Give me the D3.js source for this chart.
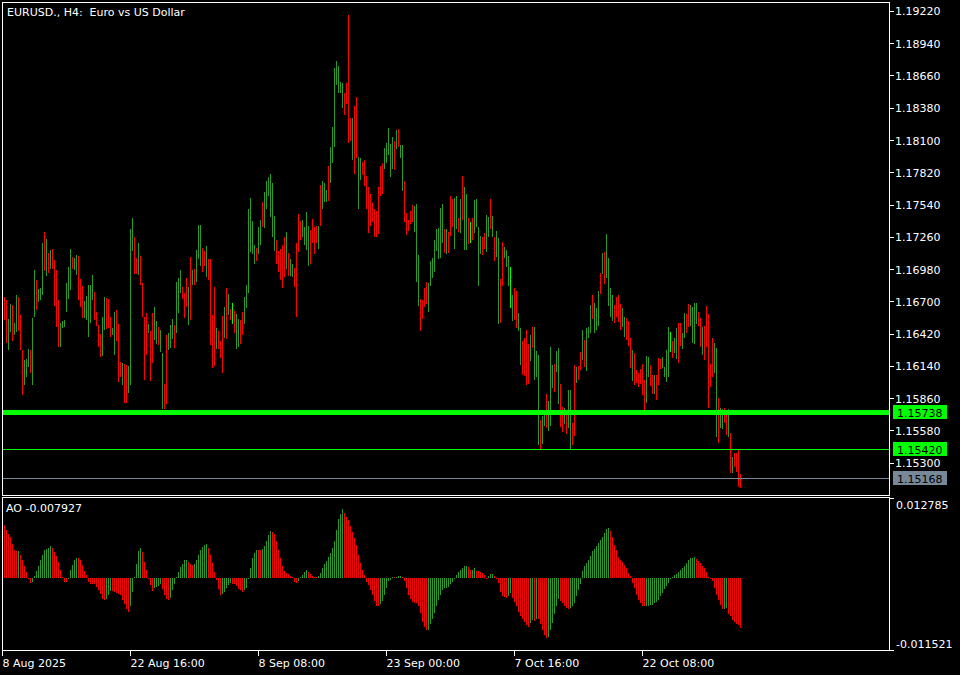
<!DOCTYPE html>
<html><head><meta charset="utf-8">
<script src="https://cdn.jsdelivr.net/npm/d3@7"></script>
<style>
html,body{margin:0;padding:0;background:#000;}
svg{display:block;}
text{font-family:"DejaVu Sans",sans-serif;font-size:11px;white-space:pre;}
</style>
</head><body>
<svg id="chart" width="960" height="675"></svg>
<script>
const chartTitle = "EURUSD., H4:  Euro vs US Dollar";
const aoTitle = "AO -0.007927";
const timeLabels = ["8 Aug 2025","22 Aug 16:00","8 Sep 08:00","23 Sep 00:00","7 Oct 16:00","22 Oct 08:00"];
const timeLabelBars = [0,64,128,192,256,320];
const priceTicks = [1.19220,1.18940,1.18660,1.18380,1.18100,1.17820,1.17540,1.17260,1.16980,1.16700,1.16420,1.16140,1.15860,1.15580,1.15300];
const levelPrices = [1.15738,1.15420,1.15168];
const levelKinds = ["thick","thin","gray"];
const aoAxisValues = [0.012785,-0.011521];

const highs = [
1.16735,1.16712,1.16544,1.16677,1.16669,1.16515,1.16755,1.16735,1.16582,1.16278,
1.16191,1.16197,1.16284,1.16278,1.16553,1.16972,1.16886,1.16805,1.16813,1.17210,
1.17299,1.17239,1.17117,1.17146,1.17152,1.17059,1.16972,1.16712,1.16510,1.16533,
1.16539,1.16857,1.17001,1.17152,1.17082,1.17074,1.17103,1.17094,1.16891,1.16834,
1.16706,1.16747,1.16842,1.16842,1.16929,1.16784,1.16611,1.16495,1.16417,1.16567,
1.16735,1.16727,1.16718,1.16567,1.16466,1.16611,1.16625,1.16504,1.16177,1.16162,
1.16157,1.16148,1.16139,1.17325,1.17421,1.17256,1.17074,1.17204,1.17094,1.16857,
1.16562,1.16596,1.16504,1.16446,1.16602,1.16648,1.16533,1.16481,1.16452,1.16249,
1.15983,1.16408,1.16423,1.16495,1.16544,1.16492,1.16871,1.16900,1.16972,1.16822,
1.16770,1.16900,1.16822,1.17082,1.16974,1.16982,1.17147,1.17360,1.17360,1.17162,
1.17136,1.17180,1.17064,1.17064,1.16578,1.16823,1.16470,1.16441,1.16355,1.16571,
1.16650,1.16812,1.16766,1.16632,1.16686,1.16614,1.16589,1.16549,1.16542,1.16607,
1.16740,1.16838,1.17504,1.17594,1.17396,1.17190,1.17162,1.17342,1.17406,1.17561,
1.17651,1.17741,1.17777,1.17803,1.17731,1.17442,1.17234,1.17136,1.17154,1.17190,
1.17255,1.17298,1.17118,1.17064,1.17028,1.16992,1.17208,1.17460,1.17396,1.17406,
1.17342,1.17471,1.17352,1.17316,1.17414,1.17342,1.17352,1.17352,1.17713,1.17741,
1.17731,1.17666,1.17875,1.18037,1.18217,1.18721,1.18782,1.18739,1.18602,1.18595,
1.18505,1.18595,1.19189,1.18289,1.18289,1.18397,1.18476,1.17954,1.17947,1.17911,
1.17929,1.17785,1.17695,1.17630,1.17551,1.17497,1.17487,1.17688,1.17876,1.17897,
1.18032,1.18071,1.18205,1.18062,1.18128,1.18092,1.18187,1.18196,1.18056,1.18056,
1.17748,1.17463,1.17404,1.17487,1.17538,1.17523,1.17547,1.17104,1.16721,1.16709,
1.16820,1.16871,1.16859,1.17050,1.17074,1.17230,1.17329,1.17338,1.17508,1.17547,
1.17329,1.17329,1.17299,1.17613,1.17589,1.17598,1.17613,1.17419,1.17589,1.17787,
1.17688,1.17634,1.17425,1.17389,1.17419,1.17577,1.17589,1.17344,1.17269,1.17260,
1.17290,1.17448,1.17433,1.17589,1.17442,1.17260,1.17314,1.17248,1.16895,1.17215,
1.17170,1.17149,1.17095,1.17000,1.16754,1.16814,1.16790,1.16602,1.16470,1.16356,
1.16380,1.16452,1.16332,1.16410,1.16476,1.16476,1.16267,1.16237,1.15668,1.15704,
1.15743,1.15893,1.15833,1.16303,1.16147,1.16153,1.16273,1.16297,1.15983,1.15786,
1.15771,1.15734,1.15931,1.15931,1.15647,1.16148,1.16127,1.16139,1.16263,1.16451,
1.16365,1.16466,1.16474,1.16668,1.16755,1.16683,1.16639,1.16793,1.16943,1.17117,
1.17131,1.17284,1.17073,1.16813,1.16755,1.16668,1.16741,1.16755,1.16677,1.16639,
1.16561,1.16552,1.16532,1.16379,1.16278,1.16249,1.16104,1.16081,1.16110,1.16156,
1.16017,1.16226,1.16214,1.16148,1.16061,1.16061,1.16061,1.16205,1.16197,1.16220,
1.16133,1.16278,1.16474,1.16437,1.16359,1.16379,1.16466,1.16515,1.16509,1.16422,
1.16602,1.16590,1.16677,1.16668,1.16648,1.16683,1.16689,1.16610,1.16558,1.16480,
1.16486,1.16660,1.16590,1.16156,1.16379,1.16341,1.16292,1.15858,1.15771,1.15763,
1.15771,1.15743,1.15763,1.15560,1.15352,1.15387,1.15381,1.15410,1.15202
];

const lows = [
1.16539,1.16336,1.16278,1.16437,1.16359,1.16408,1.16437,1.16446,1.16278,1.15888,
1.15974,1.16047,1.16133,1.16076,1.15974,1.16567,1.16625,1.16698,1.16712,1.16755,
1.16967,1.16920,1.16949,1.16978,1.16978,1.16660,1.16481,1.16307,1.16307,1.16466,
1.16481,1.16611,1.16718,1.16799,1.16981,1.16972,1.16929,1.16712,1.16654,1.16553,
1.16553,1.16539,1.16388,1.16510,1.16712,1.16539,1.16486,1.16307,1.16215,1.16226,
1.16452,1.16458,1.16466,1.16394,1.16408,1.16235,1.16359,1.16003,1.16041,1.15974,
1.15821,1.15821,1.15908,1.15974,1.17140,1.16938,1.16938,1.16929,1.16842,1.16567,
1.16018,1.16235,1.16429,1.16012,1.16168,1.16365,1.16330,1.16322,1.16264,1.15763,
1.15763,1.15809,1.16278,1.16293,1.16371,1.16293,1.16423,1.16596,1.16770,1.16718,
1.16553,1.16654,1.16495,1.16535,1.16838,1.16838,1.16866,1.17064,1.17010,1.16956,
1.17010,1.16910,1.16884,1.16319,1.16121,1.16139,1.16290,1.16290,1.16211,1.16074,
1.16380,1.16369,1.16585,1.16542,1.16499,1.16427,1.16290,1.16308,1.16326,1.16409,
1.16499,1.16643,1.16776,1.17126,1.17111,1.17028,1.17054,1.17111,1.17190,1.17342,
1.17334,1.17497,1.17615,1.17435,1.17262,1.17136,1.17028,1.16956,1.16884,1.16812,
1.16910,1.16982,1.16920,1.16920,1.16910,1.16823,1.16560,1.17126,1.17234,1.17255,
1.17190,1.17147,1.17010,1.17028,1.17208,1.17111,1.17208,1.17154,1.17352,1.17497,
1.17561,1.17561,1.17569,1.17731,1.17903,1.18037,1.18577,1.18505,1.18505,1.18379,
1.18314,1.18415,1.18073,1.18091,1.17929,1.17803,1.17947,1.17497,1.17749,1.17795,
1.17702,1.17497,1.17291,1.17352,1.17388,1.17255,1.17254,1.17284,1.17613,1.17628,
1.17852,1.17897,1.17966,1.17778,1.17846,1.17837,1.18026,1.18038,1.17948,1.17658,
1.17389,1.17278,1.17314,1.17374,1.17389,1.17305,1.16865,1.16662,1.16440,1.16551,
1.16650,1.16679,1.16605,1.16835,1.16901,1.16955,1.17140,1.17068,1.17080,1.17209,
1.17119,1.17110,1.17119,1.17269,1.17344,1.17158,1.17329,1.17299,1.17290,1.17410,
1.17149,1.17149,1.17200,1.17209,1.17230,1.17290,1.17344,1.16829,1.17110,1.17098,
1.17158,1.17128,1.17260,1.17329,1.17260,1.17050,1.17089,1.16506,1.16512,1.16829,
1.17080,1.17000,1.16835,1.16641,1.16530,1.16536,1.16470,1.16446,1.16147,1.16057,
1.16051,1.15973,1.15982,1.16183,1.16297,1.16021,1.16042,1.15453,1.15414,1.15465,
1.15614,1.15602,1.15578,1.15614,1.15952,1.15914,1.16087,1.15812,1.15612,1.15569,
1.15635,1.15549,1.15598,1.15416,1.15453,1.15531,1.15994,1.16017,1.16104,1.16191,
1.16133,1.16098,1.16379,1.16422,1.16544,1.16422,1.16451,1.16486,1.16764,1.16937,
1.16851,1.16900,1.16660,1.16561,1.16532,1.16509,1.16567,1.16524,1.16451,1.16474,
1.16388,1.16365,1.16312,1.16119,1.16012,1.15974,1.15994,1.15959,1.15983,1.15887,
1.15757,1.15821,1.16041,1.15965,1.15896,1.15896,1.15844,1.15974,1.16110,1.16119,
1.16041,1.16003,1.16046,1.16263,1.16205,1.16249,1.16197,1.16168,1.16312,1.16284,
1.16379,1.16422,1.16474,1.16486,1.16341,1.16330,1.16503,1.16486,1.16307,1.16234,
1.16191,1.16307,1.15771,1.15959,1.16041,1.16075,1.15526,1.15468,1.15598,1.15589,
1.15641,1.15540,1.15526,1.15207,1.15213,1.15259,1.15222,1.15092,1.15077
];

// u = bullish bar, d = bearish bar, n = unchanged bar
const barDirection = (
"dduuduuddd uuuduuduuu dududdddu u uuuuduuddd uuuuuddddu " +
"udddu uddd u dduuudduddd duddu uduud duuuduuudd dududuuudd " +
"uddddudddu dudnduudduu uuuuduuduu u uuudddddud uuddddu uuu " +
"ddddu duuud uuuuuuuddd duddu udddd ddddddduuu uudu duuddd " +
"dduuuddddu uuuuuuudud dduudu duud nduuuuddu u duduudduuu " +
"nuddu udddd uduuuduudu u uduuddu duu ddudduduu u duuududuuu " +
"uddddu uddd uddddddu ud duddd uuuun duudduudd u uuudduddddd " +
"uuduudd udu ddddudud u"
).replace(/\s/g, "").split("");

const aoValues = [
0.00842,0.00762,0.00709,0.00656,0.00549,0.00453,0.00426,0.00432,0.00362,0.00282,
0.00187,0.00096,-0.00021,-0.00080,-0.00064,0.00027,0.00112,0.00187,0.00282,0.00362,
0.00442,0.00469,0.00485,0.00506,0.00485,0.00416,0.00346,0.00256,0.00123,0.00016,
-0.00064,-0.00070,0.00005,0.00123,0.00213,0.00293,0.00325,0.00320,0.00282,0.00203,
0.00112,0.00043,-0.00064,-0.00091,-0.00095,-0.00101,-0.00144,-0.00197,-0.00251,-0.00330,
-0.00357,-0.00330,-0.00277,-0.00208,-0.00215,-0.00224,-0.00240,-0.00251,-0.00277,-0.00357,
-0.00410,-0.00490,-0.00544,-0.00453,-0.00224,0.00016,0.00219,0.00432,0.00485,0.00416,
0.00256,0.00133,-0.00005,-0.00117,-0.00208,-0.00155,-0.00144,-0.00133,-0.00101,-0.00171,
-0.00277,-0.00330,-0.00346,-0.00314,-0.00197,-0.00091,0.00016,0.00096,0.00176,0.00229,
0.00282,0.00286,0.00252,0.00219,0.00210,0.00225,0.00286,0.00365,0.00445,0.00498,
0.00525,0.00538,0.00485,0.00365,0.00232,0.00100,-0.00033,-0.00179,-0.00266,-0.00260,
-0.00232,-0.00166,-0.00113,-0.00086,-0.00100,-0.00102,-0.00133,-0.00179,-0.00199,-0.00219,
-0.00199,-0.00153,0.00005,0.00166,0.00312,0.00398,0.00445,0.00442,0.00440,0.00465,
0.00511,0.00598,0.00684,0.00744,0.00740,0.00710,0.00598,0.00445,0.00312,0.00199,
0.00113,0.00080,0.00060,0.00033,0.00013,-0.00066,-0.00086,-0.00053,0.00020,0.00053,
0.00100,0.00133,0.00100,0.00060,0.00033,0.00020,0.00013,0.00033,0.00086,0.00153,
0.00219,0.00266,0.00332,0.00398,0.00485,0.00598,0.00764,0.00943,0.01030,0.01096,
0.01040,0.00976,0.00930,0.00830,0.00730,0.00631,0.00531,0.00365,0.00232,0.00133,
0.00046,-0.00066,-0.00120,-0.00195,-0.00280,-0.00370,-0.00441,-0.00452,-0.00413,-0.00375,
-0.00276,-0.00165,-0.00055,-0.00028,0.00015,0.00010,0.00020,0.00025,0.00030,0.00010,
-0.00044,-0.00154,-0.00265,-0.00342,-0.00386,-0.00397,-0.00400,-0.00441,-0.00562,-0.00705,
-0.00783,-0.00838,-0.00830,-0.00744,-0.00650,-0.00562,-0.00452,-0.00358,-0.00276,-0.00193,
-0.00165,-0.00154,-0.00138,-0.00099,-0.00066,-0.00017,0.00055,0.00099,0.00121,0.00154,
0.00187,0.00198,0.00176,0.00121,0.00132,0.00154,0.00110,0.00105,0.00099,0.00083,
0.00055,0.00005,0.00028,0.00066,0.00070,0.00028,-0.00005,-0.00083,-0.00220,-0.00287,
-0.00303,-0.00320,-0.00287,-0.00248,-0.00320,-0.00386,-0.00452,-0.00540,-0.00606,-0.00650,
-0.00705,-0.00760,-0.00783,-0.00716,-0.00672,-0.00689,-0.00650,-0.00661,-0.00744,-0.00827,
-0.00909,-0.00964,-0.00937,-0.00827,-0.00727,-0.00579,-0.00441,-0.00344,-0.00373,-0.00400,
-0.00453,-0.00480,-0.00496,-0.00480,-0.00453,-0.00400,-0.00282,-0.00197,-0.00091,0.00107,
0.00197,0.00240,0.00293,0.00357,0.00426,0.00464,0.00517,0.00560,0.00613,0.00656,
0.00720,0.00784,0.00800,0.00746,0.00656,0.00533,0.00442,0.00336,0.00293,0.00261,
0.00213,0.00160,0.00080,0.00037,-0.00080,-0.00160,-0.00266,-0.00346,-0.00400,-0.00442,
-0.00453,-0.00450,-0.00442,-0.00440,-0.00426,-0.00400,-0.00389,-0.00346,-0.00282,-0.00240,
-0.00176,-0.00133,-0.00080,-0.00020,0.00015,0.00053,0.00069,0.00091,0.00123,0.00160,
0.00187,0.00240,0.00293,0.00320,0.00325,0.00336,0.00304,0.00266,0.00240,0.00197,
0.00160,0.00091,0.00010,-0.00016,-0.00053,-0.00160,-0.00266,-0.00346,-0.00426,-0.00500,
-0.00490,-0.00480,-0.00580,-0.00613,-0.00666,-0.00700,-0.00730,-0.00760,-0.00793
];

// ---------- drawing ----------
const svg = d3.select("#chart");
const W = 960, H = 675;
const frameL = 2.5, frameR = 889.5;
const priceTop = 2.5, priceBottom = 495.5;
const aoTop = 497.5, aoBottom = 650.5;

const upColor = "#2a9a2a", downColor = "#ff0000", flatColor = "#00ff00";

svg.append("rect").attr("width", W).attr("height", H).attr("fill", "#000");

const n = highs.length;
const x = d3.scaleLinear().domain([0, n - 1]).range([4, 4 + 2 * (n - 1)]);
const y = d3.scaleLinear().domain([1.15028, 1.19289]).range([494, 3]);
const yAO = d3.scaleLinear().domain([aoAxisValues[1], aoAxisValues[0]]).range([650, 498]);

const bars = d3.range(n).map(i => ({i, h: highs[i], l: lows[i], d: barDirection[i]}));
const colorOf = d => d === "u" ? upColor : (d === "d" ? downColor : flatColor);

// price bars
svg.append("g").selectAll("rect").data(bars).join("rect")
  .attr("x", d => x(d.i))
  .attr("y", d => y(d.h))
  .attr("width", 1)
  .attr("height", d => Math.max(1, y(d.l) - y(d.h)))
  .attr("fill", d => colorOf(d.d))
  .attr("shape-rendering", "crispEdges");

// level lines
const levelStyle = {
  thick: {stroke: "#00ff00", width: 5, box: "#00ff00", text: "#000"},
  thin: {stroke: "#00ff00", width: 1, box: "#00ff00", text: "#000"},
  gray: {stroke: "#778899", width: 1, box: "#778899", text: "#000"}
};
const levels = levelPrices.map((p, k) => ({p, s: levelStyle[levelKinds[k]]}));
svg.append("g").selectAll("line").data(levels).join("line")
  .attr("x1", 3).attr("x2", frameR)
  .attr("y1", d => Math.round(y(d.p)) + (d.s.width % 2 ? 0.5 : 0))
  .attr("y2", d => Math.round(y(d.p)) + (d.s.width % 2 ? 0.5 : 0))
  .attr("stroke", d => d.s.stroke)
  .attr("stroke-width", d => d.s.width)
  .attr("shape-rendering", "crispEdges");

// AO bars
const zeroY = yAO(0);
svg.append("g").selectAll("rect").data(aoValues.map((v, i) => ({i, v}))).join("rect")
  .attr("x", d => x(d.i))
  .attr("y", d => Math.min(zeroY, yAO(d.v)))
  .attr("width", 1)
  .attr("height", d => Math.max(1, Math.abs(yAO(d.v) - zeroY)))
  .attr("fill", d => (d.i > 0 && d.v > aoValues[d.i - 1]) ? upColor : downColor)
  .attr("shape-rendering", "crispEdges");

// frames
const frames = svg.append("g").attr("fill", "none").attr("stroke", "#fff").attr("stroke-width", 1)
  .attr("shape-rendering", "crispEdges");
frames.append("rect").attr("x", frameL).attr("y", priceTop).attr("width", frameR - frameL).attr("height", priceBottom - priceTop);
frames.append("rect").attr("x", frameL).attr("y", aoTop).attr("width", frameR - frameL).attr("height", aoBottom - aoTop);

// price axis
const pAxis = svg.append("g");
pAxis.selectAll("line").data(priceTicks).join("line")
  .attr("x1", frameR).attr("x2", frameR + 4)
  .attr("y1", d => Math.round(y(d)) + 0.5).attr("y2", d => Math.round(y(d)) + 0.5)
  .attr("stroke", "#fff").attr("shape-rendering", "crispEdges");
pAxis.selectAll("text").data(priceTicks).join("text")
  .attr("x", 895).attr("y", d => y(d) + 4.5)
  .attr("fill", "#fff")
  .text(d => d.toFixed(5));

// level labels
const lab = svg.append("g").selectAll("g").data(levels).join("g");
lab.append("rect")
  .attr("x", 893).attr("y", d => Math.round(y(d.p)) - 7)
  .attr("width", 54).attr("height", 14)
  .attr("fill", d => d.s.box);
lab.append("text")
  .attr("x", 897).attr("y", d => Math.round(y(d.p)) + 4.5)
  .attr("fill", d => d.s.text)
  .text(d => d.p.toFixed(5));

// AO axis
const aoAx = svg.append("g");
aoAx.selectAll("line").data(aoAxisValues).join("line")
  .attr("x1", frameR).attr("x2", frameR + 4)
  .attr("y1", d => yAO(d) + 0.5).attr("y2", d => yAO(d) + 0.5)
  .attr("stroke", "#fff").attr("shape-rendering", "crispEdges");
aoAx.selectAll("text").data(aoAxisValues).join("text")
  .attr("x", 896).attr("y", (d, k) => k === 0 ? yAO(d) + 11 : yAO(d) - 2)
  .attr("fill", "#fff")
  .text(d => d.toFixed(6));

// time axis
const tAxis = svg.append("g");
tAxis.selectAll("line").data(timeLabelBars).join("line")
  .attr("x1", d => x(d) - 1.5).attr("x2", d => x(d) - 1.5)
  .attr("y1", aoBottom).attr("y2", aoBottom + 5)
  .attr("stroke", "#fff").attr("shape-rendering", "crispEdges");
tAxis.selectAll("text").data(timeLabelBars).join("text")
  .attr("x", d => x(d) - 1.5).attr("y", 667)
  .attr("fill", "#fff")
  .text((d, k) => timeLabels[k]);

// titles
svg.append("text").attr("x", 7).attr("y", 15.5).attr("fill", "#fff").text(chartTitle);
svg.append("text").attr("x", 6).attr("y", 512).attr("fill", "#fff").text(aoTitle);
</script>
</body></html>
